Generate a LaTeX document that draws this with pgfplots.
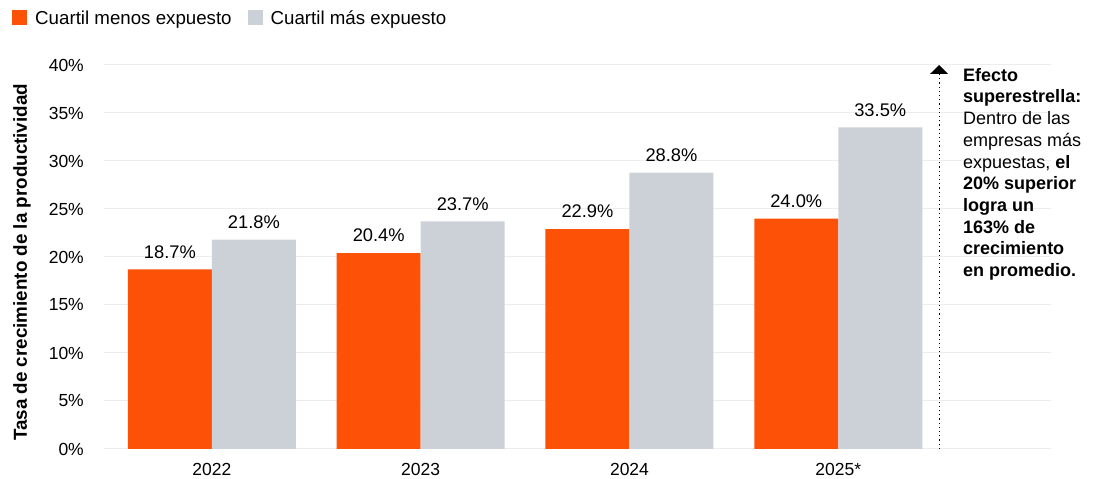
\documentclass[border=0pt]{standalone}
\usepackage{pgfplots}
\pgfplotsset{compat=1.18}
\usepackage{fontspec}
\setmainfont{Liberation Sans}
\usetikzlibrary{arrows.meta}
\definecolor{pwcorange}{HTML}{FD5108}
\definecolor{pwcgray}{HTML}{CBD1D6}
\definecolor{gridc}{HTML}{EDEDED}
\begin{document}
\begin{tikzpicture}
\useasboundingbox (0,0) rectangle (1102bp,479bp);
\begin{axis}[
  at={(104bp,30bp)}, anchor=south west,
  scale only axis, width=947bp, height=384bp,
  xmin=-0.517, xmax=4.019, ymin=0, ymax=40,
  ybar=0pt, bar width=84bp,
  axis line style={draw=none},
  major tick length=0pt,
  ymajorgrids, grid style={gridc, line width=1bp},
  ytick={0,5,...,40},
  yticklabels={0\%,5\%,10\%,15\%,20\%,25\%,30\%,35\%,40\%},
  xtick={0,1,2,3},
  xticklabels={2022,2023,2024,2025*},
  tick label style={font=\fontsize{17.5bp}{21bp}\selectfont, inner sep=0pt},
  yticklabel style={anchor=east, xshift=-20bp},
  xticklabel style={anchor=north, yshift=-14bp},
  ylabel={Tasa de crecimiento de la productividad},
  every axis y label/.style={at={(axis description cs:-0.0866,0.486)}, rotate=90, anchor=center, font=\bfseries\fontsize{18.8bp}{21bp}\selectfont},
  nodes near coords={\pgfmathprintnumber[fixed,fixed zerofill,precision=1]{\pgfplotspointmeta}\%},
  /pgf/number format/assume math mode=true,
  every node near coord/.append style={font=\fontsize{18.3bp}{21bp}\selectfont, anchor=south, inner sep=0pt, yshift=11bp, text=black},
  legend columns=2,
  legend style={at={(axis description cs:-0.0971,1.1224)}, anchor=west, draw=none, fill=none, inner sep=0pt, font=\fontsize{18.7bp}{21bp}\selectfont, nodes={inner sep=0pt}},
  /tikz/every odd column/.append style={column sep=8bp},
  /tikz/every even column/.append style={column sep=16bp},
  legend image code/.code={\fill[#1] (0bp,-7.5bp) rectangle (15bp,7.5bp);},
]
\addplot[fill=pwcorange, draw=none] coordinates {(0,18.7) (1,20.4) (2,22.9) (3,24.0)};
\addplot[fill=pwcgray, draw=none] coordinates {(0,21.8) (1,23.7) (2,28.8) (3,33.5)};
\legend{Cuartil menos expuesto, Cuartil más expuesto}
\draw[line width=1.2bp, dash pattern=on 1.2bp off 3bp, -{Triangle[width=18bp,length=9bp]}] (axis cs:3.483,0) -- (axis cs:3.483,40);
\end{axis}
\node[anchor=north west, inner sep=0pt, align=left, font=\fontsize{18bp}{21.7bp}\selectfont] at (963bp,411bp) {\textbf{Efecto}\\ \textbf{superestrella:}\\ Dentro de las\\ empresas más\\ expuestas, \textbf{el}\\ \textbf{20\% superior}\\ \textbf{logra un}\\ \textbf{163\% de}\\ \textbf{crecimiento}\\ \textbf{en promedio.}};
\end{tikzpicture}
\end{document}
